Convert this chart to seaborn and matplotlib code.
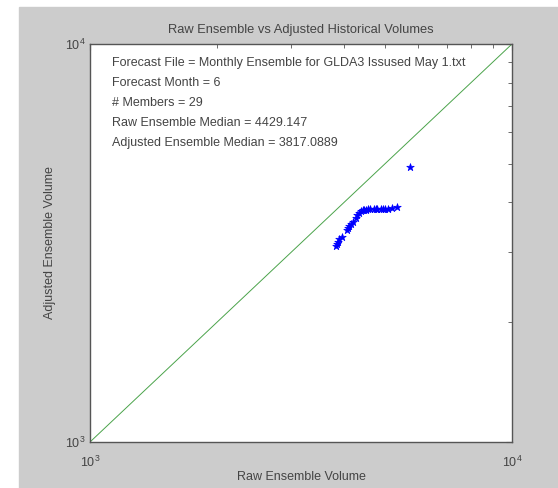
import matplotlib
matplotlib.use("Agg")
import matplotlib.pyplot as plt
import numpy as np
import pandas as pd
import seaborn as sns
from matplotlib.patches import Rectangle

# ensemble members (raw vs adjusted volumes)
raw = [3830, 3850, 3870, 3900, 3950, 4060, 4090, 4120, 4150, 4200,
       4260, 4300, 4340, 4390, 4429, 4470, 4520, 4560, 4600, 4700,
       4760, 4800, 4880, 4950, 5000, 5080, 5200, 5330, 5730]
adjusted = [3110, 3140, 3180, 3230, 3270, 3400, 3440, 3490, 3520, 3570,
            3650, 3720, 3770, 3800, 3817, 3830, 3835, 3840, 3840, 3845,
            3848, 3850, 3850, 3852, 3855, 3858, 3870, 3890, 4920]
limits = [1e3, 1e4]
info = ["Forecast File = Monthly Ensemble for GLDA3 Issused May 1.txt",
        "Forecast Month = 6",
        "# Members = 29",
        "Raw Ensemble Median = 4429.147",
        "Adjusted Ensemble Median = 3817.0889"]

df = pd.DataFrame({"raw": raw, "adjusted": adjusted})

sns.set_style("white")
plt.rcParams["font.family"] = ["Liberation Sans", "DejaVu Sans"]
grey = "#cccccc"
dark = "#444444"

fig = plt.figure(figsize=(5.58, 4.88), dpi=100)
fig.patch.set_facecolor("white")
fig.patches.append(Rectangle((19 / 558, 0), 1, (488 - 7) / 488,
                             transform=fig.transFigure, color=grey, zorder=-10))
ax = fig.add_axes([90 / 558, 1 - 442 / 488, 422 / 558, 398 / 488])

ax.plot(limits, limits, color="#4aa34a", lw=0.7)
sns.scatterplot(data=df, x="raw", y="adjusted", ax=ax, marker="*", s=32,
                color="#0000ff", edgecolor="#0000ff", linewidth=0.5)

ax.set_xscale("log")
ax.set_yscale("log")
ax.set_xlim(limits)
ax.set_ylim(limits)

for s in ax.spines.values():
    s.set_color("#555555")
    s.set_linewidth(1.0)
ax.tick_params(which="both", direction="in", top=True, right=True,
               colors="#555555", labelcolor=dark, labelsize=9)
ax.tick_params(which="major", length=4, width=0.8)
ax.tick_params(which="minor", length=3, width=0.6)
ax.tick_params(axis="x", pad=9)

ax.set_title("Raw Ensemble vs Adjusted Historical Volumes", fontsize=9.3, color=dark, pad=8)
ax.set_xlabel("Raw Ensemble Volume", fontsize=9, color=dark, labelpad=1)
ax.set_ylabel("Adjusted Ensemble Volume", fontsize=9, color=dark, labelpad=6)

for i, line in enumerate(info):
    ax.text(112 / 558, 1 - (63 + 20 * i) / 488, line, transform=fig.transFigure,
            fontsize=9, color=dark, va="center", ha="left")

fig.savefig("out.png", dpi=100, facecolor=fig.get_facecolor())
